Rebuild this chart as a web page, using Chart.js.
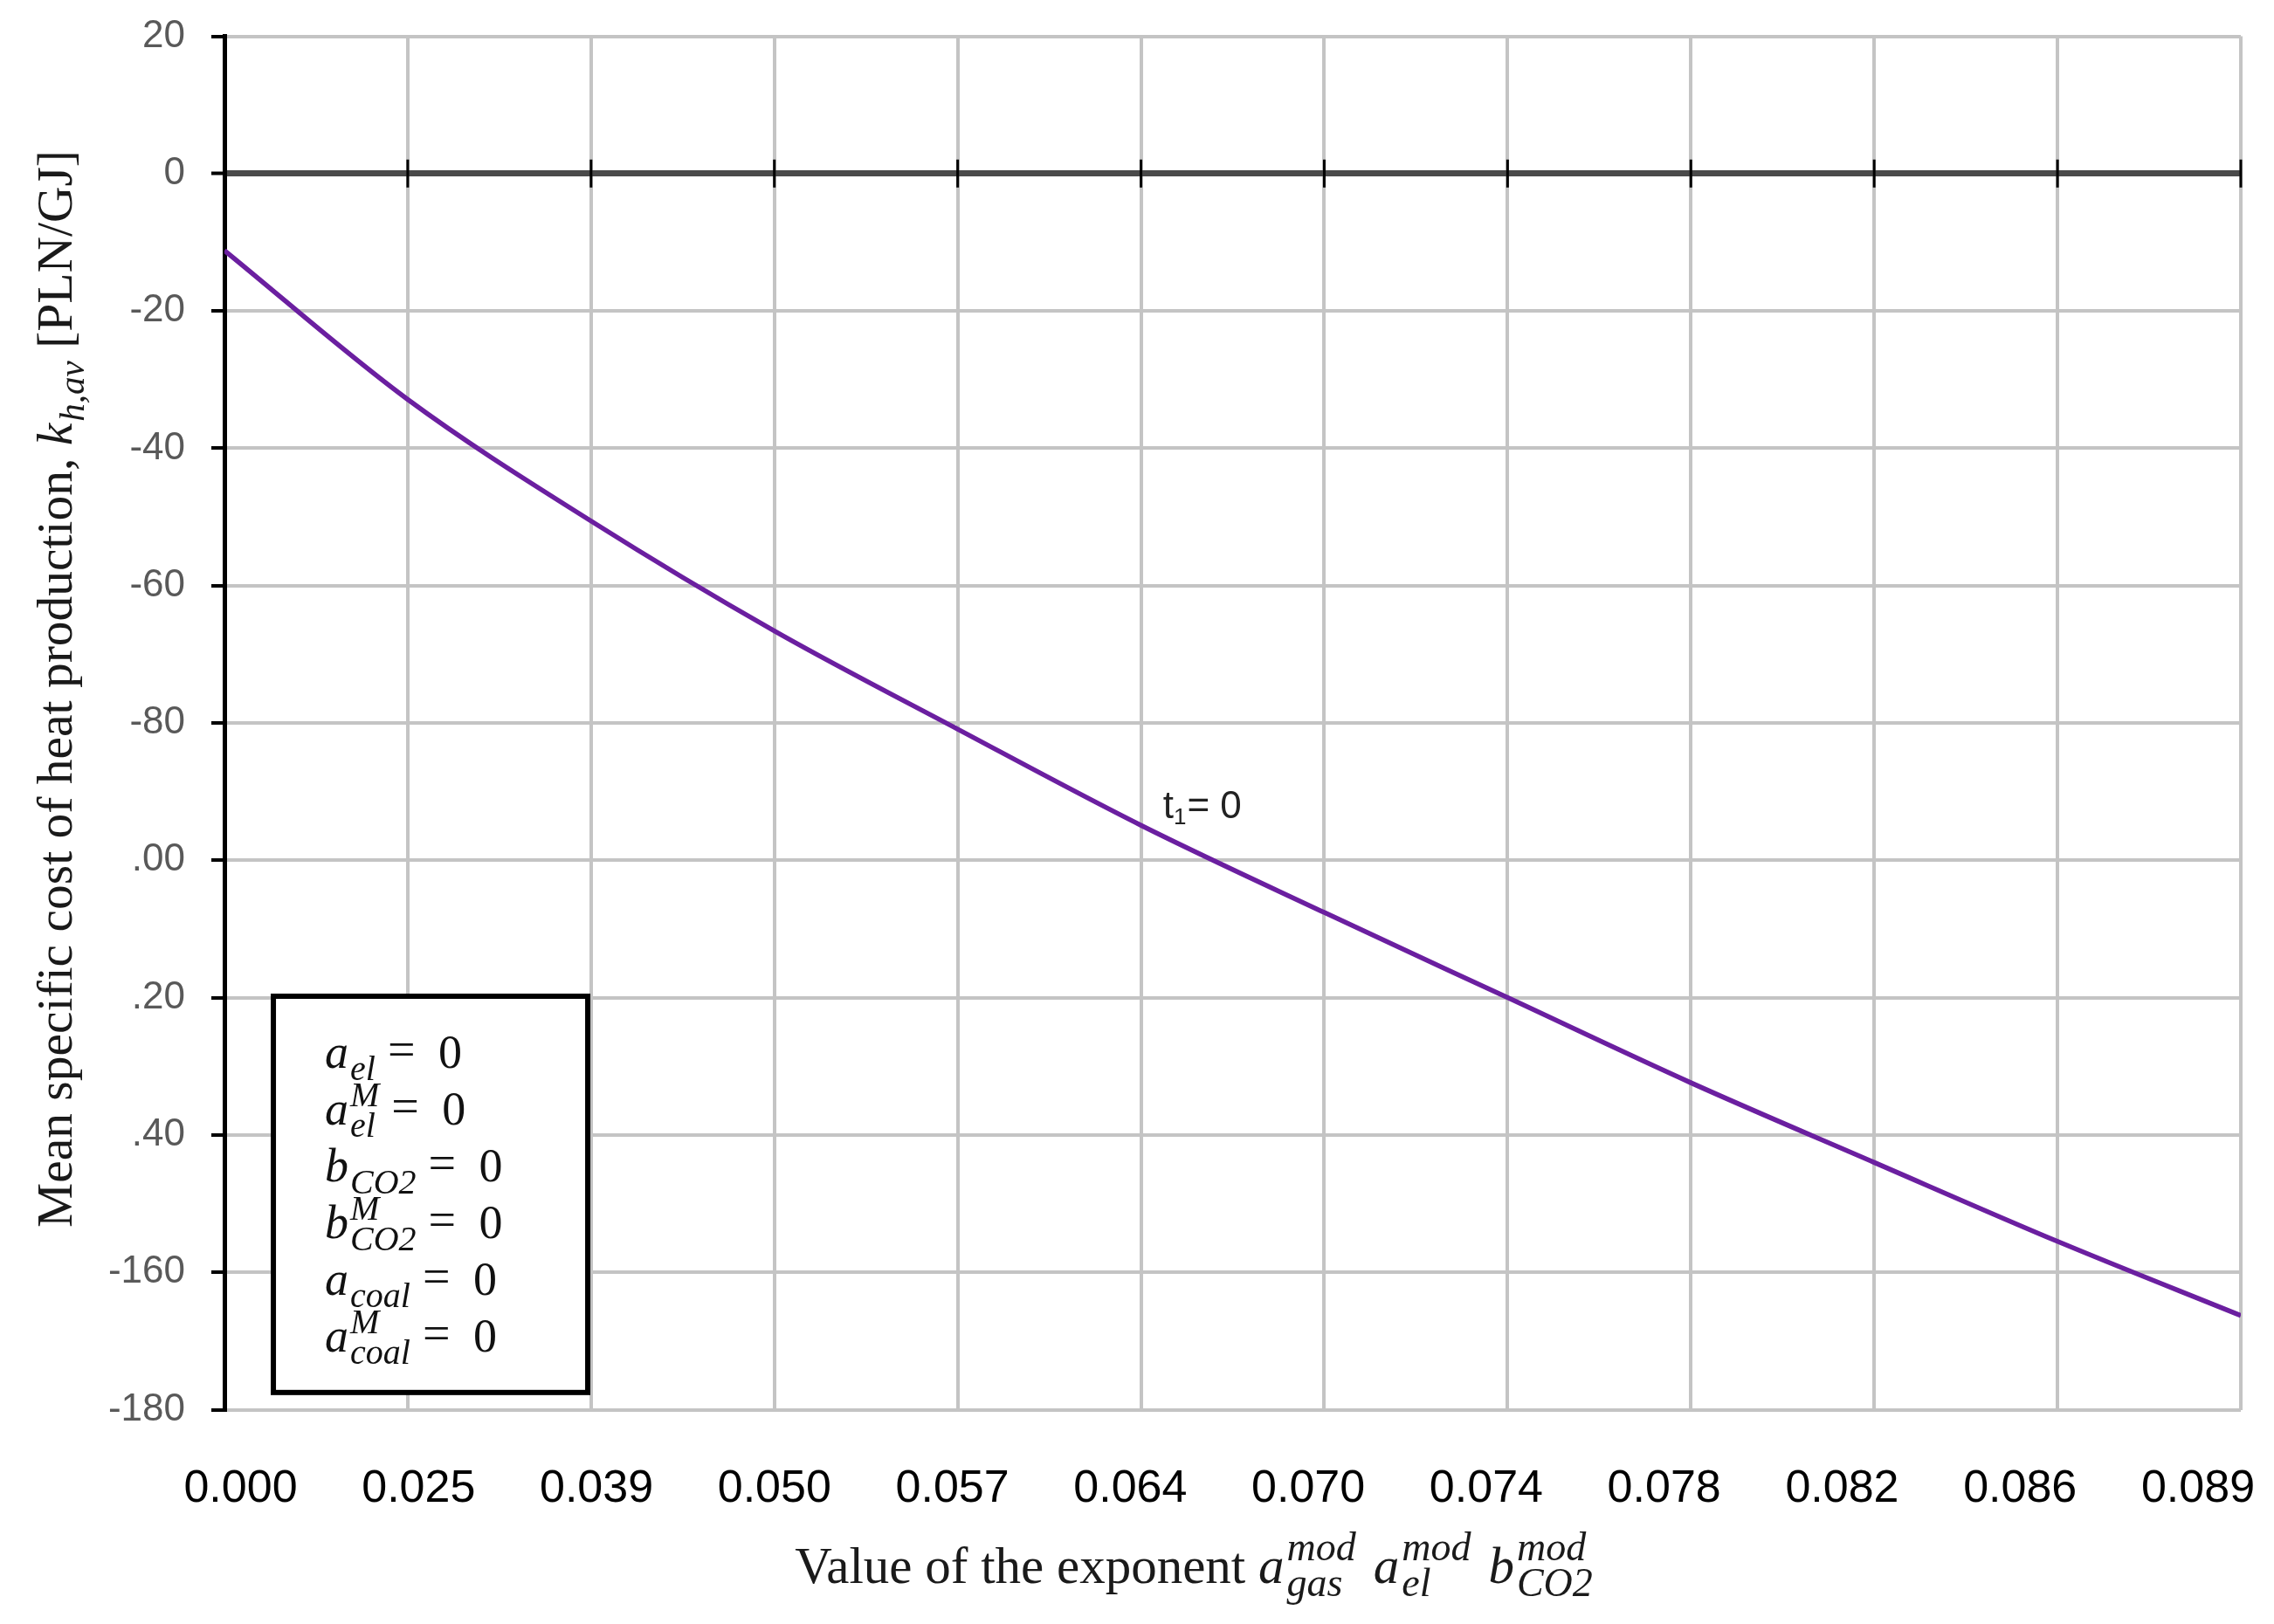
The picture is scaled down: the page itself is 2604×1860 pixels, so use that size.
<!DOCTYPE html>
<html>
<head>
<meta charset="utf-8">
<script src="https://cdn.jsdelivr.net/npm/chart.js@4.4.1/dist/chart.umd.min.js"></script>
<style>
html, body { margin: 0; padding: 0; background: #fff; }
canvas { display: block; }
</style>
</head>
<body>
<canvas id="chart" width="2604" height="1860"></canvas>
<script>
// values
const xLabels = ['0.000', '0.025', '0.039', '0.050', '0.057', '0.064', '0.070', '0.074', '0.078', '0.082', '0.086', '0.089'];
const costValues = [-11.2, -32.9, -50.6, -66.6, -80.9, -94.9, -107.6, -120.0, -132.4, -144.0, -155.5, -166.3];
const yTickValues = [20, 0, -20, -40, -60, -80, -100, -120, -140, -160, -180];
const yTickLabels = ['20', '0', '-20', '-40', '-60', '-80', '.00', '.20', '.40', '-160', '-180'];
const legendRows = [
	['a', 'el', ''],
	['a', 'el', 'M'],
	['b', 'CO2', ''],
	['b', 'CO2', 'M'],
	['a', 'coal', ''],
	['a', 'coal', 'M']
];
const xTitleParts = ['Value of the exponent ', ['a', 'gas', 'mod'], ['a', 'el', 'mod'], ['b', 'CO2', 'mod']];
const yTitleParts = ['Mean specific cost of heat production, ', ['k', 'h,av', ''], ' [PLN/GJ]'];

// placement of the note and the legend box, in axis units
const curveNote = { x: 5.12, y: -93.8 };
const legendBox = { x0: 0.267, x1: 1.982, y0: -119.8, y1: -177.5 };

const SERIF = '"Liberation Serif", "Times New Roman", serif';

// draws text with italic symbols carrying sub/superscripts, returns width
function drawRich(ctx, parts, x, y, o, dry) {
	const start = x;
	parts.forEach((p, i) => {
		if (typeof p === 'string') {
			ctx.font = `${o.size}px ${SERIF}`;
			if (!dry) ctx.fillText(p, x, y);
			x += ctx.measureText(p).width;
			return;
		}
		if (i > 0 && typeof parts[i - 1] !== 'string') x += o.gap || 0;
		ctx.font = `italic ${o.size}px ${SERIF}`;
		if (!dry) ctx.fillText(p[0], x, y);
		x += ctx.measureText(p[0]).width + (o.kern || 0);
		ctx.font = `italic ${o.small}px ${SERIF}`;
		let w = 0;
		if (p[1]) {
			if (!dry) ctx.fillText(p[1], x, y + o.subDy);
			w = Math.max(w, ctx.measureText(p[1]).width);
		}
		if (p[2]) {
			if (!dry) ctx.fillText(p[2], x, y - o.supDy);
			w = Math.max(w, ctx.measureText(p[2]).width);
		}
		x += w;
	});
	return x - start;
}

const extras = {
	id: 'extras',
	beforeDatasetsDraw(chart) {
		const ctx = chart.ctx;
		const xs = chart.scales.x, ys = chart.scales.y;
		const y0 = ys.getPixelForValue(0);
		ctx.save();
		ctx.strokeStyle = '#000';
		ctx.lineWidth = 3;
		ctx.beginPath();
		xLabels.forEach((_, i) => {
			const px = xs.getPixelForValue(i);
			ctx.moveTo(px, y0 - 16);
			ctx.lineTo(px, y0 + 16);
		});
		ctx.stroke();
		ctx.restore();
	},
	afterDraw(chart) {
		const ctx = chart.ctx;
		const xs = chart.scales.x, ys = chart.scales.y;
		ctx.save();
		ctx.textAlign = 'left';
		ctx.textBaseline = 'alphabetic';

		// note on the curve
		let nx = xs.getPixelForValue(curveNote.x);
		const ny = ys.getPixelForValue(curveNote.y);
		ctx.fillStyle = '#222';
		ctx.font = '44px "Liberation Sans"';
		ctx.fillText('t', nx, ny);
		nx += ctx.measureText('t').width;
		ctx.font = '26px "Liberation Sans"';
		ctx.fillText('1', nx, ny + 7);
		nx += ctx.measureText('1').width + 1;
		ctx.font = '44px "Liberation Sans"';
		ctx.fillText('= 0', nx, ny);

		// legend box
		const bx0 = xs.getPixelForValue(legendBox.x0), bx1 = xs.getPixelForValue(legendBox.x1);
		const by0 = ys.getPixelForValue(legendBox.y0), by1 = ys.getPixelForValue(legendBox.y1);
		ctx.fillStyle = '#fff';
		ctx.fillRect(bx0, by0, bx1 - bx0, by1 - by0);
		ctx.strokeStyle = '#000';
		ctx.lineWidth = 6;
		ctx.strokeRect(bx0, by0, bx1 - bx0, by1 - by0);
		ctx.fillStyle = '#111';
		legendRows.forEach((r, i) => {
			const lx = bx0 + 59, ly = by0 + 82 + i * 65;
			const w = drawRich(ctx, [r], lx, ly, { size: 54, small: 40, subDy: 14, supDy: 21, kern: 2 });
			ctx.font = `56px ${SERIF}`;
			ctx.fillText('=', lx + w + 14, ly - 2);
			ctx.font = `54px ${SERIF}`;
			ctx.fillText('0', lx + w + 72, ly);
		});

		// x axis title
		const xo = { size: 59, small: 46, subDy: 15, supDy: 26, gap: 20, kern: 3 };
		const xw = drawRich(ctx, xTitleParts, 0, 0, xo, true);
		ctx.fillStyle = '#1a1a1a';
		drawRich(ctx, xTitleParts, 1367 - xw / 2, 1813, xo);

		// y axis title
		const yo = { size: 57.5, small: 41, subDy: 14, supDy: 24, kern: 2 };
		const yw = drawRich(ctx, yTitleParts, 0, 0, yo, true);
		ctx.translate(82, 789);
		ctx.rotate(-Math.PI / 2);
		drawRich(ctx, yTitleParts, -yw / 2, 0, yo);
		ctx.restore();
	}
};

new Chart(document.getElementById('chart'), {
	type: 'line',
	data: {
		datasets: [{
			label: 't1 = 0',
			data: costValues.map((v, i) => ({ x: i, y: v })),
			borderColor: '#6b1fa0',
			borderWidth: 5.5,
			pointRadius: 0,
			cubicInterpolationMode: 'monotone',
			fill: false,
			xAxisID: 'x',
			yAxisID: 'y'
		}]
	},
	options: {
		responsive: false,
		devicePixelRatio: 1,
		animation: false,
		layout: { padding: { top: 41.5, right: 38, bottom: 0, left: 0 } },
		plugins: {
			legend: { display: false },
			tooltip: { enabled: false }
		},
		scales: {
			x: {
				type: 'linear',
				position: 'bottom',
				min: 0,
				max: xLabels.length - 1,
				ticks: { display: false, stepSize: 1 },
				grid: { color: '#c4c4c4', lineWidth: 4, drawTicks: false },
				border: { display: false },
				afterFit(s) { s.height = 0; s.paddingLeft = 0; s.paddingRight = 0; }
			},
			xl: {
				type: 'linear',
				position: 'bottom',
				min: -0.0908,
				max: 11.2405,
				afterBuildTicks(s) { s.ticks = xLabels.map((_, i) => ({ value: i })); },
				ticks: {
					callback: (v) => xLabels[Math.round(v)],
					font: { family: 'Liberation Sans', size: 52 },
					color: '#000',
					padding: 60,
					autoSkip: false,
					maxRotation: 0,
					minRotation: 0
				},
				grid: { display: false, drawTicks: false },
				border: { display: false },
				afterFit(s) { s.height = 245.5; s.paddingLeft = 0; s.paddingRight = 0; }
			},
			y: {
				min: -180,
				max: 20,
				afterBuildTicks(s) { s.ticks = yTickValues.map((v) => ({ value: v })); },
				ticks: {
					callback: (v) => yTickLabels[yTickValues.indexOf(v)],
					font: { family: 'Liberation Sans', size: 44 },
					color: '#595959',
					padding: 30
				},
				grid: {
					color: (c) => c.tick && c.tick.value === 0 ? '#4a4a4a' : '#c4c4c4',
					lineWidth: (c) => c.tick && c.tick.value === 0 ? 7 : 4,
					tickColor: '#000',
					tickLength: 15,
					tickWidth: 4
				},
				border: { color: '#000', width: 5 },
				afterFit(s) { s.width = 257; s.paddingTop = 0; s.paddingBottom = 0; }
			}
		}
	},
	plugins: [extras]
});
</script>
</body>
</html>
